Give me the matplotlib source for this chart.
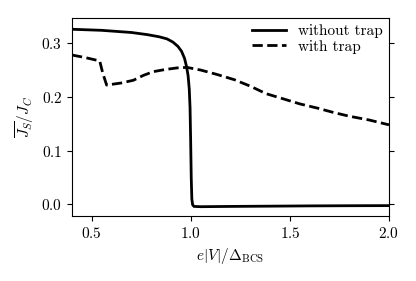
import matplotlib
matplotlib.use("Agg")
import matplotlib.pyplot as plt
import numpy as np

plt.rcParams['font.family'] = 'serif'
plt.rcParams['font.serif'] = ['cmr10']
plt.rcParams['mathtext.fontset'] = 'cm'
plt.rcParams['axes.formatter.use_mathtext'] = True
plt.rcParams['font.size'] = 11

# without trap
x_no = [0.40, 0.55, 0.70, 0.78, 0.84, 0.88, 0.91, 0.935, 0.953, 0.968, 0.978,
        0.986, 0.992, 0.996, 0.999, 1.002, 1.005, 1.009, 1.016, 1.05, 1.2,
        1.4, 1.6, 1.8, 2.0]
y_no = [0.326, 0.324, 0.320, 0.316, 0.312, 0.308, 0.302, 0.294, 0.285, 0.272,
        0.257, 0.240, 0.215, 0.180, 0.120, 0.050, 0.010, -0.001, -0.004,
        -0.0045, -0.004, -0.0035, -0.003, -0.0027, -0.0025]

# with trap
x_tr = [0.40, 0.47, 0.54, 0.555, 0.575, 0.65, 0.71, 0.76, 0.81, 0.87, 0.93,
        0.98, 1.05, 1.13, 1.22, 1.30, 1.38, 1.47, 1.55, 1.64, 1.72, 1.80,
        1.90, 2.0]
y_tr = [0.278, 0.273, 0.267, 0.245, 0.222, 0.226, 0.231, 0.240, 0.247, 0.251,
        0.254, 0.255, 0.250, 0.242, 0.232, 0.220, 0.206, 0.196, 0.187, 0.179,
        0.171, 0.164, 0.157, 0.148]

fig = plt.figure(figsize=(4.16, 2.81), dpi=100)
ax = fig.add_axes([0.173, 0.231, 0.762, 0.705])
ax.plot(x_no, y_no, '-', color='black', lw=2, label='without trap')
ax.plot(x_tr, y_tr, '--', color='black', lw=2, label='with trap')
ax.set_xlim(0.4, 2.0)
ax.set_ylim(-0.022, 0.347)
ax.set_xticks([0.5, 1.0, 1.5, 2.0])
ax.set_yticks([0.0, 0.1, 0.2, 0.3])
ax.tick_params(axis='y', right=True, direction='out')
ax.set_xlabel(r'$e|V|/\Delta_{\mathrm{BCS}}$')
ax.set_ylabel(r'$\overline{J_S}/J_C$')
ax.legend(loc='upper right', frameon=False, handlelength=2.2,
          borderaxespad=0.0, labelspacing=0.1)
fig.savefig('out.png', dpi=100)
